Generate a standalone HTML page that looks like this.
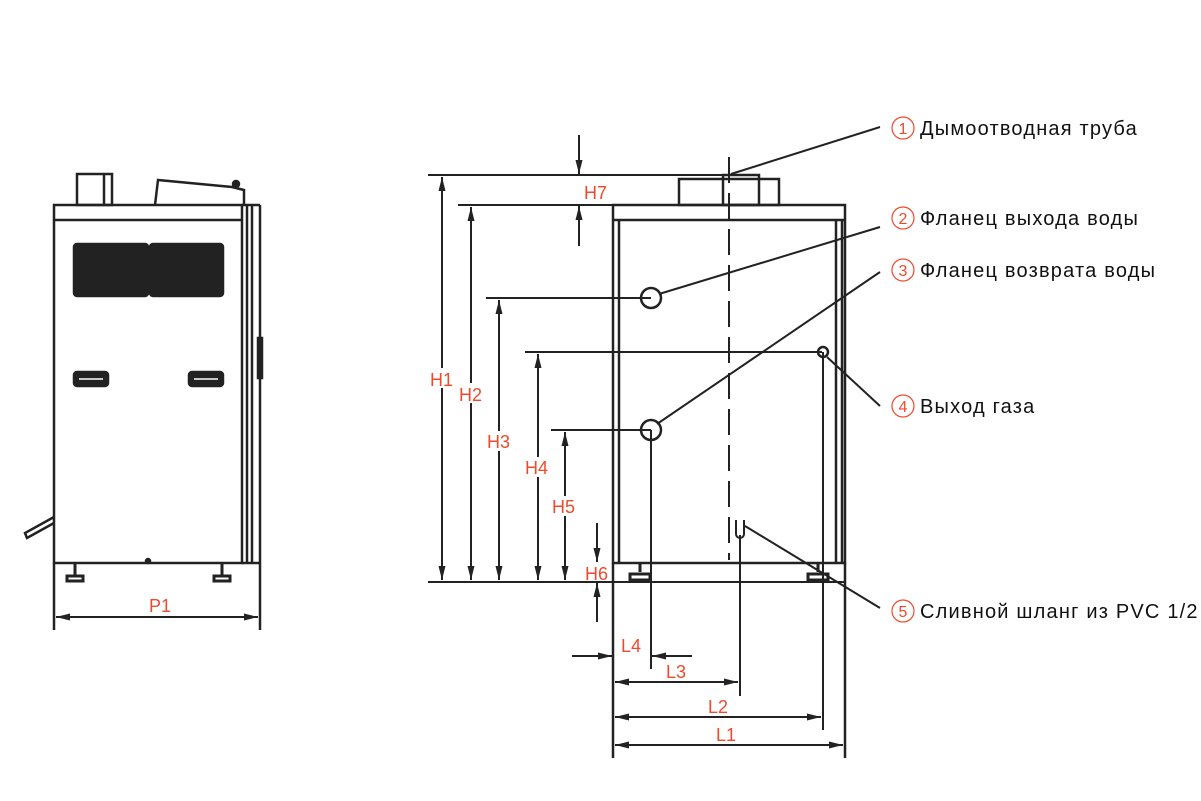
<!DOCTYPE html>
<html><head><meta charset="utf-8"><style>
html,body{margin:0;padding:0;background:#fff;width:1201px;height:801px;overflow:hidden}
svg{display:block}
.r{fill:#ef4a2d;font-family:"Liberation Sans",sans-serif;font-size:18px}
.t{fill:#111;font-family:"Liberation Sans","Noto Sans CJK SC",sans-serif;font-size:20px;letter-spacing:1.2px}
.c{fill:none;stroke:#ef4a2d;stroke-width:1.2}
.cn{fill:#ef4a2d;font-family:"Liberation Sans",sans-serif;font-size:16px}
</style></head><body>
<svg width="1201" height="801" viewBox="0 0 1201 801" xmlns="http://www.w3.org/2000/svg">
<defs>
<marker id="a" viewBox="0 0 14 7" refX="14" refY="3.5" markerWidth="14" markerHeight="7" orient="auto-start-reverse" markerUnits="userSpaceOnUse" preserveAspectRatio="none"><path d="M0,0 L14,3.5 L0,7 z" fill="#222"/></marker>
</defs>
<g stroke="#222" stroke-width="2.5" fill="none">
<rect x="54" y="205" width="188" height="358"/>
<line x1="54" y1="220" x2="242" y2="220"/>
<line x1="242" y1="205" x2="260" y2="205"/>
<line x1="247" y1="205" x2="247" y2="563"/>
<line x1="252" y1="205" x2="252" y2="563"/>
<line x1="260" y1="205" x2="260" y2="630"/>
<line x1="54" y1="563" x2="54" y2="630"/>
<line x1="242" y1="563" x2="260" y2="563"/>
<rect x="258" y="338" width="4" height="40" fill="#222"/>
<rect x="77" y="174" width="35" height="31"/>
<line x1="104" y1="174" x2="104" y2="205"/>
<path d="M155,205 L158,180 L232,187 L244,190 L244,205"/>
<circle cx="236" cy="184" r="3" fill="#222"/>
<path d="M54,523 L27,538 L25,533 L54,517"/>
<rect x="74" y="244" width="74" height="52" rx="3" fill="#222"/>
<rect x="150" y="244" width="73" height="52" rx="3" fill="#222"/>
<rect x="74" y="372" width="34" height="14" rx="3" fill="#222"/>
<rect x="189" y="372" width="34" height="14" rx="3" fill="#222"/>
<line x1="79" y1="379" x2="103" y2="379" stroke="#fff" stroke-width="1.5"/>
<line x1="194" y1="379" x2="218" y2="379" stroke="#fff" stroke-width="1.5"/>
<path d="M75,563 V575 M67,576 h16 v5 h-16 z M222,563 V575 M214,576 h16 v5 h-16 z" stroke-width="3"/>
<circle cx="148" cy="561" r="2" fill="#222"/>
<line x1="56" y1="617" x2="258" y2="617" marker-start="url(#a)" marker-end="url(#a)" stroke-width="2"/>

<rect x="613" y="205" width="232" height="358"/>
<line x1="613" y1="220" x2="845" y2="220"/>
<line x1="619" y1="220" x2="619" y2="563"/>
<line x1="836" y1="220" x2="836" y2="563"/>
<line x1="842" y1="220" x2="842" y2="563"/>
<rect x="679" y="179" width="100" height="26"/>
<rect x="723" y="175" width="36" height="30"/>
<line x1="729" y1="157" x2="729" y2="560" stroke-dasharray="26,10" stroke-width="2"/>
<line x1="428" y1="175" x2="730" y2="175" stroke-width="2"/>
<line x1="458" y1="205" x2="613" y2="205" stroke-width="2"/>
<line x1="486" y1="298" x2="651" y2="298" stroke-width="2"/>
<line x1="525" y1="352" x2="822" y2="352" stroke-width="2"/>
<line x1="551" y1="430" x2="651" y2="430" stroke-width="2"/>
<line x1="428" y1="582" x2="845" y2="582" stroke-width="2"/>
<circle cx="651" cy="298" r="10"/>
<circle cx="651" cy="430" r="10"/>
<circle cx="823" cy="352" r="5"/>
<line x1="651" y1="430" x2="651" y2="669" stroke-width="2"/>
<line x1="823" y1="352" x2="823" y2="730" stroke-width="2"/>
<line x1="740" y1="535" x2="740" y2="696" stroke-width="2"/>
<line x1="613" y1="563" x2="613" y2="758"/>
<line x1="845" y1="563" x2="845" y2="758"/>
<path d="M736,520 V534 a4,4 0 0 0 8,0 V520" stroke-width="2"/>
<path d="M640,563 V572 M630,574 h20 v6 h-20 z M818,563 V572 M808,574 h20 v6 h-20 z" stroke-width="3"/>
<g stroke-width="2">
<line x1="442" y1="177" x2="442" y2="580" marker-start="url(#a)" marker-end="url(#a)"/>
<line x1="471" y1="207" x2="471" y2="580" marker-start="url(#a)" marker-end="url(#a)"/>
<line x1="499" y1="300" x2="499" y2="580" marker-start="url(#a)" marker-end="url(#a)"/>
<line x1="538" y1="354" x2="538" y2="580" marker-start="url(#a)" marker-end="url(#a)"/>
<line x1="565" y1="432" x2="565" y2="580" marker-start="url(#a)" marker-end="url(#a)"/>
<line x1="579" y1="135" x2="579" y2="174" marker-end="url(#a)"/>
<line x1="579" y1="246" x2="579" y2="206" marker-end="url(#a)"/>
<line x1="597" y1="523" x2="597" y2="562" marker-end="url(#a)"/>
<line x1="597" y1="622" x2="597" y2="583" marker-end="url(#a)"/>
<line x1="572" y1="656" x2="612" y2="656" marker-end="url(#a)"/>
<line x1="692" y1="656" x2="652" y2="656" marker-end="url(#a)"/>
<line x1="615" y1="682" x2="738" y2="682" marker-start="url(#a)" marker-end="url(#a)"/>
<line x1="615" y1="717" x2="821" y2="717" marker-start="url(#a)" marker-end="url(#a)"/>
<line x1="615" y1="745" x2="843" y2="745" marker-start="url(#a)" marker-end="url(#a)"/>
<line x1="731" y1="174" x2="880" y2="127"/>
<line x1="659" y1="294" x2="880" y2="227"/>
<line x1="657" y1="424" x2="880" y2="272"/>
<line x1="827" y1="357" x2="880" y2="406"/>
<line x1="745" y1="526" x2="880" y2="608"/>
</g>
</g>
<rect x="584" y="183" width="26" height="18" fill="#fff"/>
<text class="r" x="584" y="199">H7</text>
<rect x="430" y="368" width="26" height="20" fill="#fff"/>
<text class="r" x="430" y="386">H1</text>
<rect x="459" y="383" width="26" height="20" fill="#fff"/>
<text class="r" x="459" y="401">H2</text>
<rect x="487" y="431" width="26" height="20" fill="#fff"/>
<text class="r" x="487" y="448">H3</text>
<rect x="526" y="457" width="26" height="20" fill="#fff"/>
<text class="r" x="525" y="474">H4</text>
<rect x="552" y="496" width="26" height="20" fill="#fff"/>
<text class="r" x="552" y="513">H5</text>
<text class="r" x="585" y="580">H6</text>
<text class="r" x="621" y="652">L4</text>
<text class="r" x="666" y="678">L3</text>
<text class="r" x="708" y="713">L2</text>
<text class="r" x="716" y="741">L1</text>
<text class="r" x="149" y="612">P1</text>
<g>
<circle class="c" cx="903" cy="128" r="11"/><text class="cn" x="903" y="134" text-anchor="middle">1</text>
<text class="t" x="920" y="135">Дымоотводная труба</text>
<circle class="c" cx="903" cy="218" r="11"/><text class="cn" x="903" y="224" text-anchor="middle">2</text>
<text class="t" x="920" y="225">Фланец выхода воды</text>
<circle class="c" cx="903" cy="270" r="11"/><text class="cn" x="903" y="276" text-anchor="middle">3</text>
<text class="t" x="920" y="277">Фланец возврата воды</text>
<circle class="c" cx="903" cy="406" r="11"/><text class="cn" x="903" y="412" text-anchor="middle">4</text>
<text class="t" x="920" y="413">Выход газа</text>
<circle class="c" cx="903" cy="611" r="11"/><text class="cn" x="903" y="617" text-anchor="middle">5</text>
<text class="t" x="920" y="618">Сливной шланг из PVC 1/2</text>
</g>
</svg>
</body></html>
